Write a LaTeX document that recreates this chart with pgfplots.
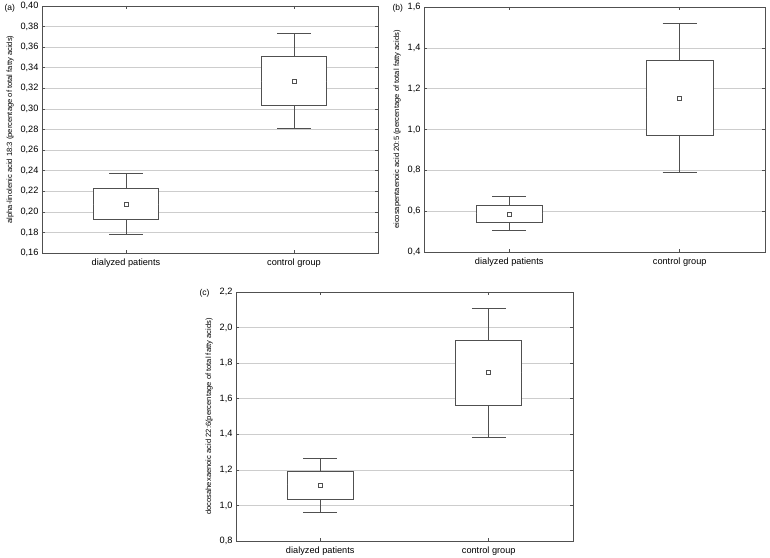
\documentclass[border=0pt]{standalone}
\usepackage{pgfplots}
\pgfplotsset{compat=1.18}
\usepgfplotslibrary{statistics}
\usepackage{fontspec}
\setmainfont{Liberation Sans}
\definecolor{ln}{RGB}{80,80,80}
\definecolor{gr}{RGB}{205,205,205}
\pgfplotsset{
  panel/.style={
    scale only axis, anchor=south west,
    xmin=-0.5, xmax=1.5, xtick={0,1},
    xticklabels={dialyzed patients, control group},
    x tick label style={font=\fontsize{9.2}{10}\selectfont, yshift=-2pt},
    y tick label style={font=\fontsize{9.2}{10}\selectfont, xshift=0pt},
    ylabel style={font=\fontsize{7.6}{8}\selectfont},
    /pgf/number format/assume math mode=true,
    /pgf/number format/use comma, /pgf/number format/fixed, /pgf/number format/fixed zerofill,
    ymajorgrids, grid style={gr, line width=0.6pt},
    axis line style={ln, line width=0.8pt},
    major tick length=3pt, tick style={ln, line width=0.6pt},
    tick align=inside, tick pos=both,
    boxplot/draw direction=y,
    boxplot/every median/.style={draw=none},
  },
  bx/.style={draw=ln, line width=0.8pt, fill=white, solid},
  mn/.style={only marks, mark=square*, mark size=2pt, mark options={draw=ln, fill=white, line width=0.6pt}},
}
\begin{document}
\begin{tikzpicture}
\useasboundingbox (0pt,0pt) rectangle (770pt,557pt);
% (a)
\begin{axis}[panel, at={(42pt,304pt)}, width=336pt, height=247pt,
  ymin=0.16, ymax=0.40, ytick={0.16,0.18,...,0.405},
  /pgf/number format/precision=2,
  ylabel={alpha-linolenic acid 18:3 (percentage of total fatty acids)}]
\addplot[bx, boxplot prepared={lower whisker=0.178, lower quartile=0.193, median=0.207, upper quartile=0.223, upper whisker=0.237, draw position=0, box extend=0.39, whisker extend=0.2}] coordinates {};
\addplot[bx, boxplot prepared={lower whisker=0.281, lower quartile=0.303, median=0.327, upper quartile=0.351, upper whisker=0.373, draw position=1, box extend=0.39, whisker extend=0.2}] coordinates {};
\addplot[mn] coordinates {(0,0.207) (1,0.327)};
\end{axis}
\node[font=\fontsize{8.5}{9}\selectfont, anchor=west] at (1pt,549pt) {(a)};
% (b)
\begin{axis}[panel, at={(424pt,305pt)}, width=341pt, height=245pt,
  ymin=0.4, ymax=1.6, ytick={0.4,0.6,...,1.65},
  /pgf/number format/precision=1,
  ylabel={eicosapentaenoic acid 20:5 (percentage of total fatty acids)}]
\addplot[bx, boxplot prepared={lower whisker=0.508, lower quartile=0.547, median=0.587, upper quartile=0.628, upper whisker=0.672, draw position=0, box extend=0.39, whisker extend=0.2}] coordinates {};
\addplot[bx, boxplot prepared={lower whisker=0.79, lower quartile=0.97, median=1.155, upper quartile=1.34, upper whisker=1.52, draw position=1, box extend=0.39, whisker extend=0.2}] coordinates {};
\addplot[mn] coordinates {(0,0.587) (1,1.155)};
\end{axis}
\node[font=\fontsize{8.5}{9}\selectfont, anchor=west] at (389pt,549pt) {(b)};
% (c)
\begin{axis}[panel, at={(236pt,16pt)}, width=337pt, height=249pt,
  ymin=0.8, ymax=2.2, ytick={0.8,1.0,...,2.25},
  /pgf/number format/precision=1,
  ylabel={docosahexaenoic acid 22:6(percentage of total fatty acids)}]
\addplot[bx, boxplot prepared={lower whisker=0.962, lower quartile=1.035, median=1.115, upper quartile=1.19, upper whisker=1.265, draw position=0, box extend=0.39, whisker extend=0.2}] coordinates {};
\addplot[bx, boxplot prepared={lower whisker=1.385, lower quartile=1.56, median=1.75, upper quartile=1.93, upper whisker=2.11, draw position=1, box extend=0.39, whisker extend=0.2}] coordinates {};
\addplot[mn] coordinates {(0,1.115) (1,1.75)};
\end{axis}
\node[font=\fontsize{8.5}{9}\selectfont, anchor=west] at (196pt,264pt) {(c)};
\end{tikzpicture}
\end{document}
